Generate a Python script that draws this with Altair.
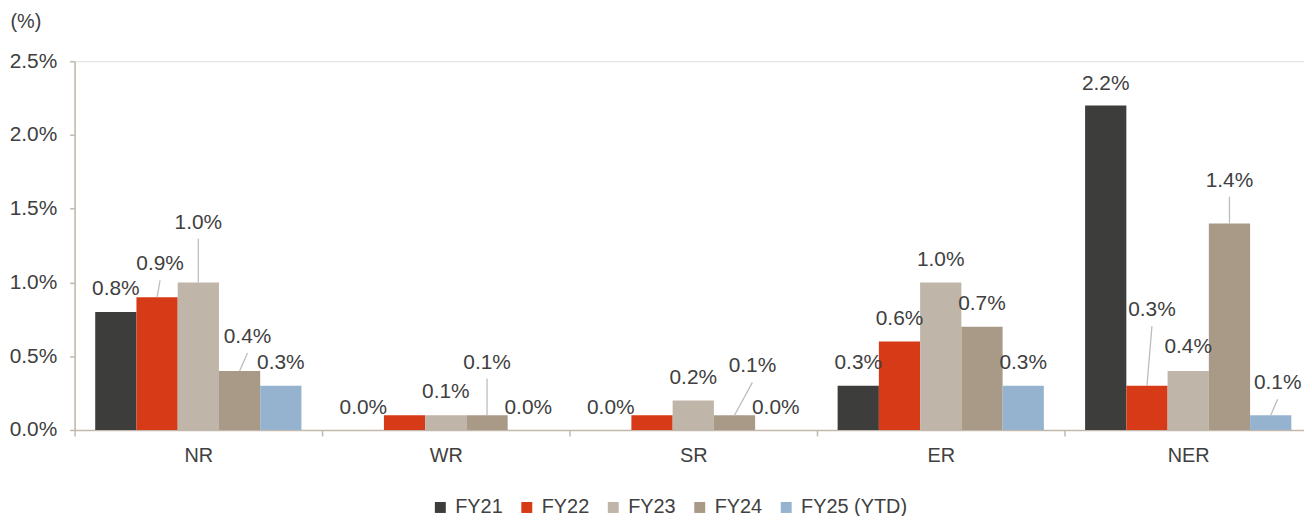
import altair as alt
import pandas as pd

# ---------------- data ----------------
regions = ["NR", "WR", "SR", "ER", "NER"]
series = ["FY21", "FY22", "FY23", "FY24", "FY25 (YTD)"]
fy21 = [0.8, 0.0, 0.0, 0.3, 2.2]
fy22 = [0.9, 0.1, 0.1, 0.6, 0.3]
fy23 = [1.0, 0.1, 0.2, 1.0, 0.4]
fy24 = [0.4, 0.1, 0.1, 0.7, 1.4]
fy25 = [0.3, 0.0, 0.0, 0.3, 0.1]
values = [fy21, fy22, fy23, fy24, fy25]
y_ticks = [0.0, 0.5, 1.0, 1.5, 2.0, 2.5]

# ---------------- styling ----------------
colors = ["#3d3d3b", "#d63a17", "#bfb5a8", "#a89a86", "#95b3cf"]
TEXT = "#404040"
AXIS = "#c2b9ac"
LEADER = "#bdbdbd"
FONT = "Liberation Sans"
FS = 20
FS_NUM = 21

# data-label placement: lift above bar top (px) and horizontal shift (px); None = no label
lift_fy21 = [23, 22, 22, 23, 22]
lift_fy22 = [33, None, None, 23, 76]
lift_fy23 = [60, 23, 23, 23, 24]
lift_fy24 = [34, 53, 49, 23, 43]
lift_fy25 = [23, 22, 22, 23, 32]
lifts = [lift_fy21, lift_fy22, lift_fy23, lift_fy24, lift_fy25]
shift_fy21 = [0, 0, 0, 0, 0]
shift_fy22 = [3, 0, 0, 0, 5]
shift_fy23 = [0, 0, 0, 0, 0]
shift_fy24 = [8, 0, 18, 0, 0]
shift_fy25 = [0, 0, 0, 0, 7]
shifts = [shift_fy21, shift_fy22, shift_fy23, shift_fy24, shift_fy25]

H = 371
W = 1237
BAND = 249
YMAX = 2.5
PX = YMAX / H

bar_rows, lab_rows, lead_rows = [], [], []
for ri, reg in enumerate(regions):
    for si, s in enumerate(series):
        v = values[si][ri]
        bar_rows.append(dict(region=reg, series=s, value=v))
        lift = lifts[si][ri]
        if lift is None:
            continue
        cx = (si + 1) * BAND / 6
        lx = cx + shifts[si][ri]
        ly = v + lift * PX
        lab_rows.append(dict(region=reg, series=s, lx=lx, ly=ly, text=f"{v:.1f}%"))
        if lift >= 30:
            lid = f"{reg}-{s}"
            lead_rows.append(dict(id=lid, k=0, region=reg, lx=cx, ly=v))
            lead_rows.append(dict(id=lid, k=1, region=reg, lx=lx, ly=ly - 16 * PX))

bars_df = pd.DataFrame(bar_rows)
lab_df = pd.DataFrame(lab_rows)
lead_df = pd.DataFrame(lead_rows)

x_axis = alt.Axis(
    title=None, labelFontSize=FS, labelColor=TEXT, labelFont=FONT,
    tickBand="extent", tickSize=6, tickColor=AXIS, tickWidth=1.5,
    domainColor=AXIS, domainWidth=1.5, labelPadding=10, labelAngle=0,
)
x_scale = alt.Scale(range=[0, BAND * 5], paddingInner=0, paddingOuter=0)
y_scale = alt.Scale(domain=[0, YMAX], nice=False)
y_axis = alt.Axis(
    values=y_ticks, labelExpr="format(datum.value, '.1f') + '%'",
    title="(%)", titleAngle=0, titleAlign="left", titleBaseline="middle",
    titleX=-65, titleY=-40, titleFontSize=FS, titleFontWeight="normal",
    titleColor=TEXT, titleFont=FONT,
    grid=False, tickSize=5, tickColor=AXIS, tickWidth=1.5,
    domainColor=AXIS, domainWidth=1.5, labelPadding=13,
    labelFontSize=FS_NUM, labelColor=TEXT, labelFont=FONT,
)

def X():
    return alt.X("region:N", sort=regions, scale=x_scale, axis=x_axis)

q_off = alt.XOffset("lx:Q", scale=alt.Scale(domain=[0, BAND], range=[0, BAND], nice=False, zero=False))

bars = alt.Chart(bars_df).mark_bar().encode(
    x=X(),
    xOffset=alt.XOffset("series:N", sort=series,
                        scale=alt.Scale(paddingInner=0, paddingOuter=0.5)),
    y=alt.Y("value:Q", scale=y_scale, axis=y_axis),
    color=alt.Color(
        "series:N", sort=series,
        scale=alt.Scale(domain=series, range=colors),
        legend=alt.Legend(
            orient="none", legendX=358, legendY=439, direction="horizontal",
            title=None, symbolType="square", symbolSize=121, symbolStrokeWidth=0,
            labelFontSize=FS, labelColor=TEXT, labelFont=FONT,
            columnPadding=14, labelOffset=5, padding=0,
        ),
    ),
)

leaders = alt.Chart(lead_df).mark_line(color=LEADER, strokeWidth=1.3).encode(
    x=X(),
    xOffset=q_off,
    y=alt.Y("ly:Q", scale=y_scale, axis=y_axis),
    detail="id:N",
    order="k:O",
)

labels = alt.Chart(lab_df).mark_text(
    fontSize=FS_NUM, color=TEXT, font=FONT, baseline="middle", align="center"
).encode(
    x=X(),
    xOffset=q_off,
    y=alt.Y("ly:Q", scale=y_scale, axis=y_axis),
    text="text:N",
)

chart = (
    alt.layer(bars, leaders, labels)
    .resolve_scale(xOffset="independent")
    .properties(
        width=W, height=H,
        autosize=alt.AutoSizeParams(type="none"),
        padding={"left": 67, "top": 52, "right": 0, "bottom": 85},
    )
    .configure_view(stroke=None)
    .configure(font=FONT)
)

chart.save("out.html", embed_options={"renderer": "svg", "actions": False})
